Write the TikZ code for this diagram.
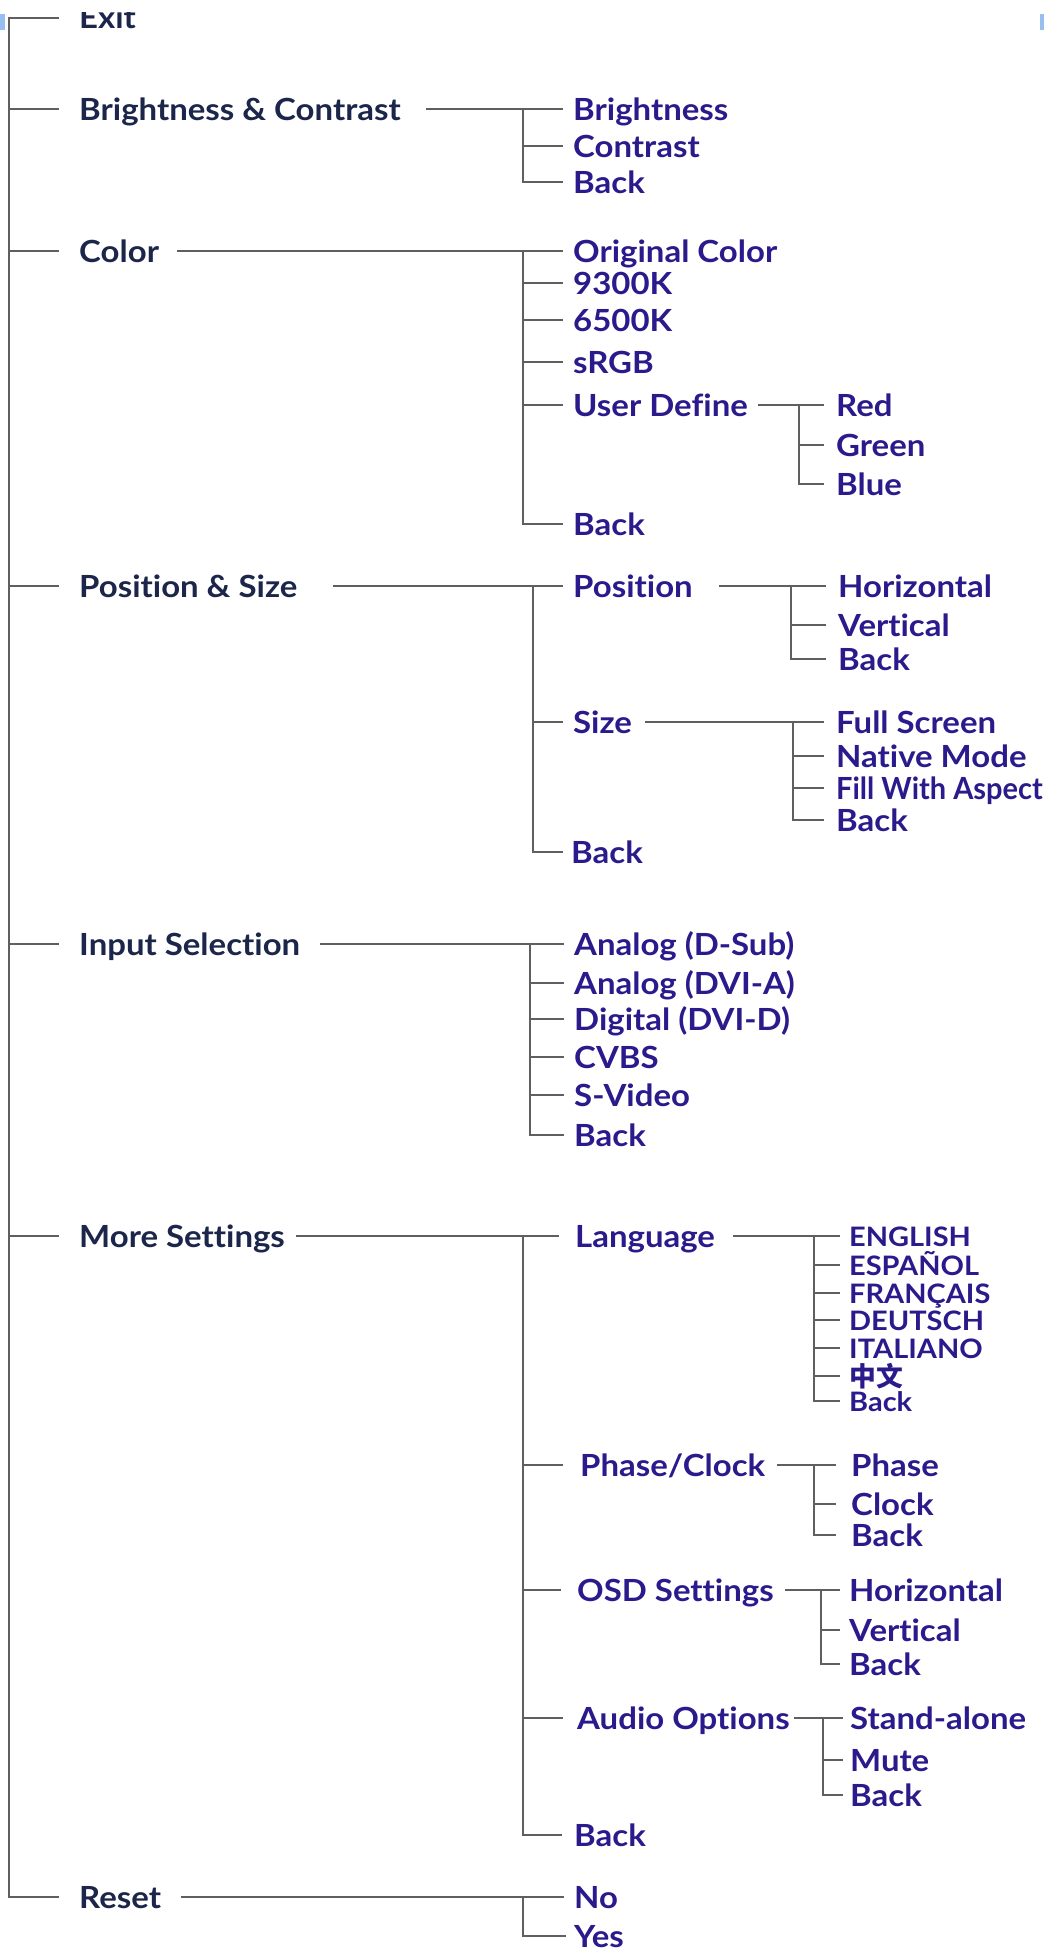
\documentclass[tikz,border=0pt]{standalone}
\usepackage{graphicx}
\usepackage{fontspec}
\setmainfont{Lato}[FakeStretch=1.08,Ligatures=NoCommon]
\newfontfamily\cjkfont{Noto Sans CJK SC}
\definecolor{menunavy}{RGB}{28,38,74}
\definecolor{menublue}{RGB}{42,26,140}
\definecolor{menuline}{RGB}{95,95,95}
\definecolor{markblue}{RGB}{150,190,240}
\tikzset{
  lvl/.style={anchor=west,inner sep=0pt,text height=29pt,text depth=7pt,font=\fontsize{30.5}{34}\selectfont\bfseries},
  mainitem/.style={lvl,text=menunavy},
  subitem/.style={lvl,text=menublue},
  langitem/.style={subitem,text height=26pt,text depth=6pt,font=\fontsize{26.8}{30}\selectfont\bfseries},
  tree/.style={line width=1.4pt,draw=menuline}
}
\begin{document}
\begin{tikzpicture}[x=1pt,y=-1pt]
   \useasboundingbox (0,0) rectangle (1044,1951);
   \fill[white] (0,0) rectangle (1044,1951);
   \fill[markblue] (0,14) rectangle (5,30);
   \fill[markblue] (1040,14) rectangle (1044,30);
   \coordinate (t0) at (9,0);
   \coordinate (tbc) at (523,0);
   \coordinate (tcol) at (523,0);
   \coordinate (tud) at (799,0);
   \coordinate (tps) at (533,0);
   \coordinate (tpos) at (791,0);
   \coordinate (tsize) at (793,0);
   \coordinate (tinp) at (530,0);
   \coordinate (tmore) at (523,0);
   \coordinate (tlang) at (814,0);
   \coordinate (tpc) at (814,0);
   \coordinate (tosd) at (821,0);
   \coordinate (taud) at (823,0);
   \coordinate (treset) at (523,0);
   \begin{scope}
      \clip (0,12.5) rectangle (1044,1951);
      \node[mainitem] (exit) at (79,18) {Exit};
   \end{scope}
   \node[mainitem] (bc) at (79,109) {Brightness \& Contrast};
   \node[mainitem] (col) at (79,251) {Color};
   \node[mainitem] (ps) at (79,586) {Position \& Size};
   \node[mainitem] (inp) at (79,944) {Input Selection};
   \node[mainitem] (more) at (79,1236) {More Settings};
   \node[mainitem] (reset) at (79,1897) {Reset};
   \node[subitem] (bc1) at (573,109) {Brightness};
   \node[subitem] (bc2) at (573,146) {Contrast};
   \node[subitem] (bc3) at (573,182) {Back};
   \node[subitem] (col1) at (573,251) {Original Color};
   \node[subitem] (col2) at (573,283) {9300K};
   \node[subitem] (col3) at (573,320) {6500K};
   \node[subitem] (col4) at (573,362) {sRGB};
   \node[subitem] (col5) at (573,405) {User Define};
   \node[subitem] (col6) at (573,524) {Back};
   \node[subitem] (ud1) at (836,405) {Red};
   \node[subitem] (ud2) at (836,445) {Green};
   \node[subitem] (ud3) at (836,484) {Blue};
   \node[subitem] (ps1) at (573,586) {Position};
   \node[subitem] (ps2) at (573,722) {Size};
   \node[subitem] (ps3) at (571,852) {Back};
   \node[subitem] (pos1) at (838,586) {Horizontal};
   \node[subitem] (pos2) at (838,625) {Vertical};
   \node[subitem] (pos3) at (838,659) {Back};
   \node[subitem] (size1) at (836,722) {Full Screen};
   \node[subitem] (size2) at (836,756) {Native Mode};
   \node[subitem] (size3) at (836,788) {\scalebox{0.88}[1]{Fill With Aspect}};
   \node[subitem] (size4) at (836,820) {Back};
   \node[subitem] (inp1) at (574,944) {Analog (D-Sub)};
   \node[subitem] (inp2) at (574,983) {Analog (DVI-A)};
   \node[subitem] (inp3) at (574,1019) {Digital (DVI-D)};
   \node[subitem] (inp4) at (574,1057) {CVBS};
   \node[subitem] (inp5) at (574,1095) {S-Video};
   \node[subitem] (inp6) at (574,1135) {Back};
   \node[subitem] (more1) at (575,1236) {Language};
   \node[subitem] (more2) at (580,1465) {Phase/Clock};
   \node[subitem] (more3) at (577,1590) {OSD Settings};
   \node[subitem] (more4) at (577,1718) {Audio Options};
   \node[subitem] (more5) at (574,1835) {Back};
   \node[langitem] (lang1) at (849,1236) {ENGLISH};
   \node[langitem] (lang2) at (849,1265) {ESPAÑOL};
   \node[langitem] (lang3) at (849,1293) {FRANÇAIS};
   \node[langitem] (lang4) at (849,1320) {DEUTSCH};
   \node[langitem] (lang5) at (849,1348) {ITALIANO};
   \node[langitem] (lang6) at (849,1376) {\cjkfont 中文};
   \node[langitem] (lang7) at (849,1401) {Back};
   \node[subitem] (pc1) at (851,1465) {Phase};
   \node[subitem] (pc2) at (851,1504) {Clock};
   \node[subitem] (pc3) at (851,1535) {Back};
   \node[subitem] (osd1) at (849,1590) {Horizontal};
   \node[subitem] (osd2) at (849,1630) {Vertical};
   \node[subitem] (osd3) at (849,1664) {Back};
   \node[subitem] (aud1) at (850,1718) {Stand-alone};
   \node[subitem] (aud2) at (850,1760) {Mute};
   \node[subitem] (aud3) at (850,1795) {Back};
   \node[subitem] (reset1) at (574,1897) {No};
   \node[subitem] (reset2) at (574,1936) {Yes};
   \draw[tree] ([xshift=-20pt]exit.west) -| (reset.west -| t0) -- ([xshift=-20pt]reset.west);
   \draw[tree] (bc.west -| t0) -- ([xshift=-20pt]bc.west) (col.west -| t0) -- ([xshift=-20pt]col.west) (ps.west -| t0) -- ([xshift=-20pt]ps.west) (inp.west -| t0) -- ([xshift=-20pt]inp.west) (more.west -| t0) -- ([xshift=-20pt]more.west);
   \draw[tree] ([xshift=25pt]bc.east) -- ([xshift=-10pt]bc1.west) (bc1.west -| tbc) |- ([xshift=-10pt]bc3.west) (bc2.west -| tbc) -- ([xshift=-10pt]bc2.west);
   \draw[tree] ([xshift=18pt]col.east) -- ([xshift=-10pt]col1.west) (col1.west -| tcol) |- ([xshift=-10pt]col6.west) (col2.west -| tcol) -- ([xshift=-10pt]col2.west) (col3.west -| tcol) -- ([xshift=-10pt]col3.west) (col4.west -| tcol) -- ([xshift=-10pt]col4.west) (col5.west -| tcol) -- ([xshift=-10pt]col5.west);
   \draw[tree] ([xshift=10pt]col5.east) -- ([xshift=-12pt]ud1.west) (ud1.west -| tud) |- ([xshift=-12pt]ud3.west) (ud2.west -| tud) -- ([xshift=-12pt]ud2.west);
   \draw[tree] ([xshift=35pt]ps.east) -- ([xshift=-10pt]ps1.west) (ps1.west -| tps) |- ([xshift=-8pt]ps3.west) (ps2.west -| tps) -- ([xshift=-10pt]ps2.west);
   \draw[tree] ([xshift=26pt]ps1.east) -- ([xshift=-12pt]pos1.west) (pos1.west -| tpos) |- ([xshift=-12pt]pos3.west) (pos2.west -| tpos) -- ([xshift=-12pt]pos2.west);
   \draw[tree] ([xshift=13pt]ps2.east) -- ([xshift=-12pt]size1.west) (size1.west -| tsize) |- ([xshift=-12pt]size4.west) (size2.west -| tsize) -- ([xshift=-12pt]size2.west) (size3.west -| tsize) -- ([xshift=-12pt]size3.west);
   \draw[tree] ([xshift=20pt]inp.east) -- ([xshift=-10pt]inp1.west) (inp1.west -| tinp) |- ([xshift=-10pt]inp6.west) (inp2.west -| tinp) -- ([xshift=-10pt]inp2.west) (inp3.west -| tinp) -- ([xshift=-10pt]inp3.west) (inp4.west -| tinp) -- ([xshift=-10pt]inp4.west) (inp5.west -| tinp) -- ([xshift=-10pt]inp5.west);
   \draw[tree] ([xshift=11pt]more.east) -- ([xshift=-16pt]more1.west) (more1.west -| tmore) |- ([xshift=-12pt]more5.west) (more2.west -| tmore) -- ([xshift=-17pt]more2.west) (more3.west -| tmore) -- ([xshift=-16pt]more3.west) (more4.west -| tmore) -- ([xshift=-14pt]more4.west);
   \draw[tree] ([xshift=18pt]more1.east) -- ([xshift=-9pt]lang1.west) (lang1.west -| tlang) |- ([xshift=-9pt]lang7.west) (lang2.west -| tlang) -- ([xshift=-9pt]lang2.west) (lang3.west -| tlang) -- ([xshift=-9pt]lang3.west) (lang4.west -| tlang) -- ([xshift=-9pt]lang4.west) (lang5.west -| tlang) -- ([xshift=-9pt]lang5.west) (lang6.west -| tlang) -- ([xshift=-9pt]lang6.west);
   \draw[tree] ([xshift=12pt]more2.east) -- ([xshift=-15pt]pc1.west) (pc1.west -| tpc) |- ([xshift=-15pt]pc3.west) (pc2.west -| tpc) -- ([xshift=-15pt]pc2.west);
   \draw[tree] ([xshift=11pt]more3.east) -- ([xshift=-9pt]osd1.west) (osd1.west -| tosd) |- ([xshift=-9pt]osd3.west) (osd2.west -| tosd) -- ([xshift=-9pt]osd2.west);
   \draw[tree] ([xshift=4pt]more4.east) -- ([xshift=-7pt]aud1.west) (aud1.west -| taud) |- ([xshift=-7pt]aud3.west) (aud2.west -| taud) -- ([xshift=-7pt]aud2.west);
   \draw[tree] ([xshift=20pt]reset.east) -- ([xshift=-10pt]reset1.west) (reset1.west -| treset) |- ([xshift=-8pt]reset2.west);
\end{tikzpicture}
\end{document}
